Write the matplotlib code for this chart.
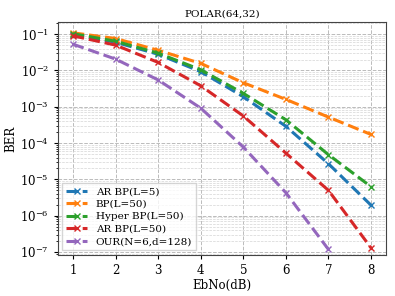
import matplotlib
matplotlib.use('Agg')
import matplotlib.pyplot as plt
import numpy as np

plt.rcParams['font.family'] = 'DejaVu Serif'
plt.rcParams['mathtext.fontset'] = 'dejavuserif'

ebno = [1, 2, 3, 4, 5, 6, 7, 8]

ar_bp5 = [9.7e-2, 6.0e-2, 2.8e-2, 9.3e-3, 1.9e-3, 2.9e-4, 2.7e-5, 1.95e-6]
bp50 = [1.09e-1, 7.6e-2, 3.6e-2, 1.57e-2, 4.6e-3, 1.6e-3, 5.2e-4, 1.73e-4]
hyper_bp50 = [1.03e-1, 6.4e-2, 3.0e-2, 1.05e-2, 2.35e-3, 4.4e-4, 4.8e-5, 6.3e-6]
ar_bp50 = [9.0e-2, 5.0e-2, 1.67e-2, 3.8e-3, 5.6e-4, 5.3e-5, 5.0e-6, 1.3e-7]
our_ebno = [1, 2, 3, 4, 5, 6, 7]
our = [5.3e-2, 2.06e-2, 5.5e-3, 9.2e-4, 7.8e-5, 4.3e-6, 1.18e-7]

fig, ax = plt.subplots(figsize=(3.95, 2.96), dpi=100)
ax.semilogy(ebno, ar_bp5, '--x', lw=2.2, ms=4, label='AR BP(L=5)')
ax.semilogy(ebno, bp50, '--x', lw=2.2, ms=4, label='BP(L=50)')
ax.semilogy(ebno, hyper_bp50, '--x', lw=2.2, ms=4, label='Hyper BP(L=50)')
ax.semilogy(ebno, ar_bp50, '--x', lw=2.2, ms=4, label='AR BP(L=50)')
ax.semilogy(our_ebno, our, '--x', lw=2.2, ms=4, label='OUR(N=6,d=128)')

ax.set_xlim(0.65, 8.35)
ax.set_ylim(10**-7.07, 10**-0.67)
ax.set_xticks(ebno)
ax.grid(True, which='major', ls='--', color='#bbbbbb', lw=0.7)
ax.grid(True, which='minor', ls='--', color='#d5d5d5', lw=0.5)
ax.tick_params(labelsize=8.5, length=3)
ax.tick_params(which='minor', length=1.5)
for sp in ax.spines.values():
    sp.set_color('#444444')
ax.set_xlabel('EbNo(dB)', fontsize=8.5, labelpad=2)
ax.set_ylabel('BER', fontsize=8.5, labelpad=2)
ax.set_title('POLAR(64,32)', fontsize=7.5, pad=4)
ax.legend(loc='lower left', fontsize=7.5, handlelength=2.0, labelspacing=0.3,
          borderaxespad=0.4, fancybox=False)

plt.subplots_adjust(left=0.147, right=0.977, top=0.925, bottom=0.14)
plt.savefig('out.png', dpi=100)
